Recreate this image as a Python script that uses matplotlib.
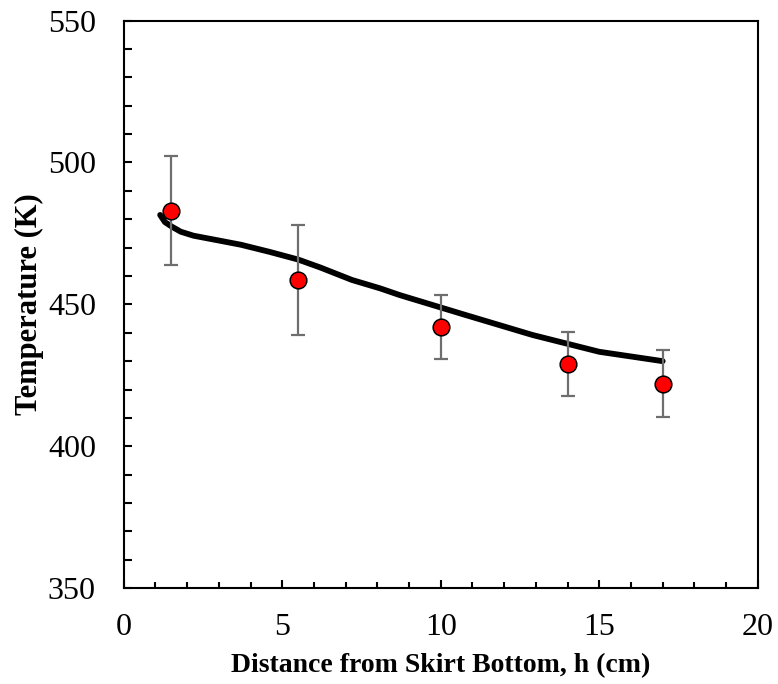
import matplotlib
matplotlib.use("Agg")
import matplotlib.pyplot as plt
from matplotlib.ticker import MultipleLocator

# measured points with error bars
h_meas = [1.5, 5.5, 10.0, 14.0, 17.0]
T_meas = [483.0, 458.6, 442.0, 429.0, 422.0]
T_err = [19.3, 19.4, 11.3, 11.3, 11.8]

# model curve
h_model = [1.15, 1.3, 1.5, 1.8, 2.2, 3.0, 3.7, 4.6, 5.5, 6.2, 7.2, 8.1,
           8.7, 10.8, 12.9, 15.0, 17.0]
T_model = [481.5, 479.0, 477.5, 475.6, 474.2, 472.5, 471.0, 468.5, 465.8,
           463.0, 458.6, 455.6, 453.3, 446.2, 439.2, 433.3, 430.0]

plt.rcParams['font.family'] = ['Liberation Serif', 'DejaVu Serif']

fig = plt.figure(figsize=(7.78, 6.84), dpi=100)
ax = fig.add_axes([0.159, 0.140, 0.815, 0.830])

ax.plot(h_model, T_model, color='black', lw=4.2, solid_capstyle='round', zorder=2)
ax.errorbar(h_meas, T_meas, yerr=T_err, fmt='none', ecolor='#6e6e6e',
            elinewidth=1.6, capsize=4.7, capthick=1.6, zorder=3)
ax.plot(h_meas, T_meas, 'o', ms=12, mfc='red', mec='black', mew=1.1, zorder=4)

ax.set_xlim(0, 20)
ax.set_ylim(350, 550)
ax.xaxis.set_major_locator(MultipleLocator(5))
ax.xaxis.set_minor_locator(MultipleLocator(1))
ax.yaxis.set_major_locator(MultipleLocator(50))
ax.yaxis.set_minor_locator(MultipleLocator(10))
ax.tick_params(which='both', direction='in', width=1.5, labelsize=23,
               top=False, right=False)
ax.tick_params(which='major', length=6)
ax.tick_params(which='minor', length=4)
ax.tick_params(axis='x', which='major', pad=18)
ax.tick_params(axis='y', which='major', pad=20)
ax.tick_params(axis='y', which='minor', length=6)
for s in ax.spines.values():
    s.set_linewidth(1.5)

ax.set_xlabel('Distance from Skirt Bottom, h (cm)', fontsize=20,
              fontweight='bold', labelpad=8)
ax.set_ylabel('Temperature (K)', fontsize=22, fontweight='bold', labelpad=3)

fig.savefig('out.png', dpi=100)
